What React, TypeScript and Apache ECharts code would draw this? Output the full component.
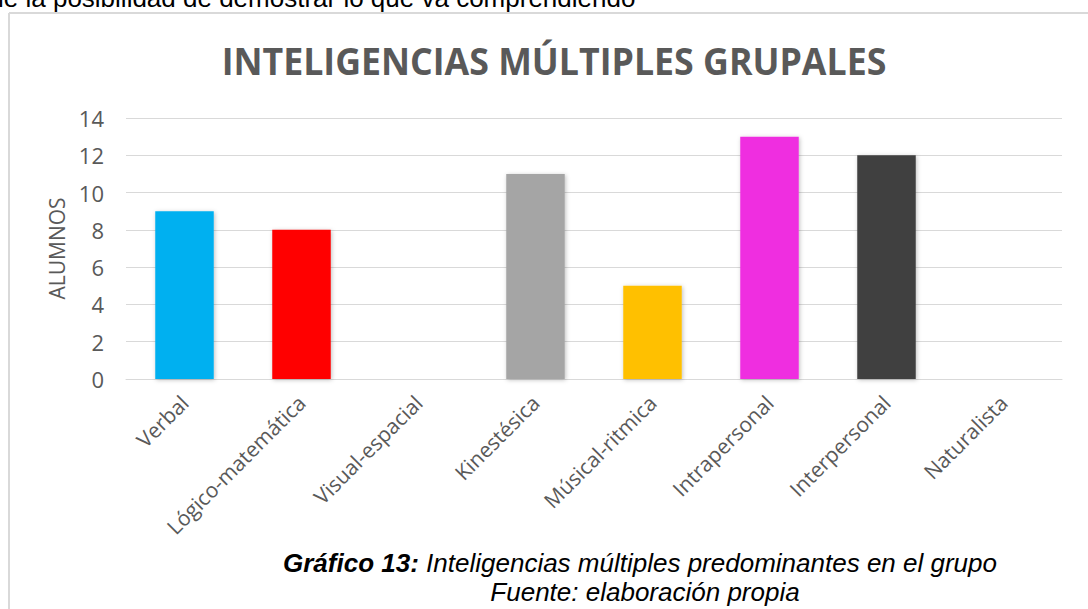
import React, { useEffect, useRef } from "react";
import * as echarts from "echarts";

const categories = [
  "Verbal",
  "Lógico-matemática",
  "Visual-espacial",
  "Kinestésica",
  "Músical-ritmica",
  "Intrapersonal",
  "Interpersonal",
  "Naturalista",
];
const alumnos = [9, 8, 0, 11, 5, 13, 12, 0];
const barColors = ["#00B0F0", "#FF0000", "#5B9BD5", "#A5A5A5", "#FFC000", "#EF2EE0", "#404040", "#70AD47"];

const titleText = "INTELIGENCIAS MÚLTIPLES GRUPALES";
const yAxisName = "ALUMNOS";
const topLine = "le la posibilidad de demostrar lo que va comprendiendo";
const captionBold = "Gráfico 13:";
const captionRest = " Inteligencias múltiples predominantes en el grupo";
const captionLine2 = "Fuente: elaboración propia";

export default function App() {
  const ref = useRef<HTMLDivElement>(null);
  useEffect(() => {
    if (!ref.current) return;
    const chart = echarts.init(ref.current, null, { renderer: "svg" });
    const labelFont = "'Open Sans', Calibri, sans-serif";
    const capFont = "'Liberation Sans', Arial, sans-serif";
    chart.setOption({
      animation: false,
      backgroundColor: "#ffffff",
      grid: { left: 126, right: 26, top: 118, bottom: 230, containLabel: false },
      xAxis: {
        type: "category",
        data: categories,
        axisLine: { show: true, lineStyle: { color: "#d9d9d9", width: 1 } },
        axisTick: { show: false },
        axisLabel: {
          interval: 0,
          rotate: 45,
          margin: 20,
          color: "#595959",
          fontSize: 21,
          fontFamily: labelFont,
        },
      },
      yAxis: {
        type: "value",
        min: 0,
        max: 14,
        interval: 2,
        name: yAxisName,
        nameLocation: "middle",
        nameGap: 57,
        nameTextStyle: { color: "#595959", fontSize: 21, fontFamily: labelFont },
        axisLine: { show: false },
        axisTick: { show: false },
        splitLine: { lineStyle: { color: "#d9d9d9", width: 1 } },
        axisLabel: { color: "#595959", fontSize: 22, fontFamily: labelFont, margin: 22 },
      },
      series: [
        {
          type: "bar",
          barWidth: "50%",
          data: alumnos.map((v, i) => ({
            value: v,
            itemStyle: {
              color: barColors[i],
              shadowColor: "rgba(0,0,0,0.25)",
              shadowBlur: 4,
              shadowOffsetX: 1,
              shadowOffsetY: 1,
            },
          })),
        },
      ],
      graphic: [
        {
          type: "line",
          shape: { x1: 9, y1: 13, x2: 9, y2: 609 },
          style: { stroke: "#d9d9d9", lineWidth: 2 },
          silent: true,
        },
        {
          type: "line",
          shape: { x1: 9, y1: 13, x2: 1088, y2: 13 },
          style: { stroke: "#d9d9d9", lineWidth: 2 },
          silent: true,
        },
        {
          type: "text",
          x: -2,
          y: -2,
          style: {
            text: topLine,
            fill: "#000000",
            font: "26px " + capFont,
            verticalAlign: "middle",
            align: "left",
          },
        },
        {
          type: "text",
          x: 554,
          y: 61,
          scaleX: 0.94,
          style: {
            text: titleText,
            fill: "#595959",
            font: "bold 38px 'Open Sans', Calibri, sans-serif",
            align: "center",
            verticalAlign: "middle",
          },
        },
        {
          type: "text",
          x: 640,
          y: 563,
          style: {
            text: "{b|" + captionBold + "}{n|" + captionRest + "}",
            align: "center",
            verticalAlign: "middle",
            rich: {
              b: { fontFamily: capFont, fontSize: 26, fontWeight: "bold", fontStyle: "italic", fill: "#000" },
              n: { fontFamily: capFont, fontSize: 26, fontStyle: "italic", fill: "#000" },
            },
          },
        },
        {
          type: "text",
          x: 645,
          y: 592,
          style: {
            text: captionLine2,
            fill: "#000",
            font: "italic 26px " + capFont,
            align: "center",
            verticalAlign: "middle",
          },
        },
      ],
    });
    return () => chart.dispose();
  }, []);
  return (
    <div
      ref={ref}
      style={{ position: "fixed", left: 0, top: 0, width: 1088, height: 609 }}
    />
  );
}
